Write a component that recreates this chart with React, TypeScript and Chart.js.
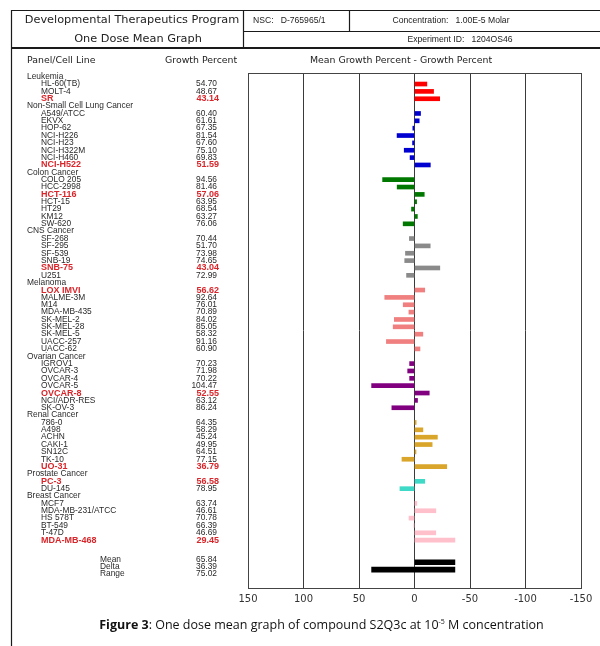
import { useEffect, useRef } from "react";
import { Chart, registerables } from "chart.js";

Chart.register(...registerables);

// ---------- data ----------
const panelNames = [
  "Leukemia",
  "Non-Small Cell Lung Cancer",
  "Colon Cancer",
  "CNS Cancer",
  "Melanoma",
  "Ovarian Cancer",
  "Renal Cancer",
  "Prostate Cancer",
  "Breast Cancer",
];

const leukemiaCells = ["HL-60(TB)", "MOLT-4", "SR"];
const leukemiaGP = [54.7, 48.67, 43.14];

const nsclcCells = ["A549/ATCC", "EKVX", "HOP-62", "NCI-H226", "NCI-H23", "NCI-H322M", "NCI-H460", "NCI-H522"];
const nsclcGP = [60.4, 61.61, 67.35, 81.54, 67.6, 75.1, 69.83, 51.59];

const colonCells = ["COLO 205", "HCC-2998", "HCT-116", "HCT-15", "HT29", "KM12", "SW-620"];
const colonGP = [94.56, 81.46, 57.06, 63.95, 68.54, 63.27, 76.06];

const cnsCells = ["SF-268", "SF-295", "SF-539", "SNB-19", "SNB-75", "U251"];
const cnsGP = [70.44, 51.7, 73.98, 74.65, 43.04, 72.99];

const melanomaCells = ["LOX IMVI", "MALME-3M", "M14", "MDA-MB-435", "SK-MEL-2", "SK-MEL-28", "SK-MEL-5", "UACC-257", "UACC-62"];
const melanomaGP = [56.62, 92.64, 76.01, 70.89, 84.02, 85.05, 58.32, 91.16, 60.9];

const ovarianCells = ["IGROV1", "OVCAR-3", "OVCAR-4", "OVCAR-5", "OVCAR-8", "NCI/ADR-RES", "SK-OV-3"];
const ovarianGP = [70.23, 71.98, 70.22, 104.47, 52.55, 63.12, 86.24];

const renalCells = ["786-0", "A498", "ACHN", "CAKI-1", "SN12C", "TK-10", "UO-31"];
const renalGP = [64.35, 58.29, 45.24, 49.95, 64.51, 77.15, 36.79];

const prostateCells = ["PC-3", "DU-145"];
const prostateGP = [56.58, 78.95];

const breastCells = ["MCF7", "MDA-MB-231/ATCC", "HS 578T", "BT-549", "T-47D", "MDA-MB-468"];
const breastGP = [63.74, 46.61, 70.78, 66.39, 46.69, 29.45];

const highlighted = ["SR", "NCI-H522", "HCT-116", "SNB-75", "LOX IMVI", "OVCAR-8", "UO-31", "PC-3", "MDA-MB-468"];

const panelColors = ["#ff0000", "#0000d0", "#007800", "#8a8a8a", "#f08080", "#800080", "#d9a52a", "#3fd9c8", "#ffbfcb"];

const MEAN = 65.84;
const DELTA = 36.39;
const RANGE = 75.02;

const xTickValues = [150, 100, 50, 0, -50, -100, -150];

// ---------- rows ----------
type Row = {
  kind: "panel" | "cell" | "blank" | "summary";
  label: string;
  gp?: number;
  color?: string;
  red?: boolean;
};

const panelCells = [leukemiaCells, nsclcCells, colonCells, cnsCells, melanomaCells, ovarianCells, renalCells, prostateCells, breastCells];
const panelGP = [leukemiaGP, nsclcGP, colonGP, cnsGP, melanomaGP, ovarianGP, renalGP, prostateGP, breastGP];

const rows: Row[] = [];
panelNames.forEach((name, p) => {
  rows.push({ kind: "panel", label: name });
  panelCells[p].forEach((c, k) => {
    rows.push({ kind: "cell", label: c, gp: panelGP[p][k], color: panelColors[p], red: highlighted.includes(c) });
  });
});
rows.push({ kind: "blank", label: "" });
rows.push({ kind: "summary", label: "Mean", gp: MEAN });
rows.push({ kind: "summary", label: "Delta", gp: DELTA });
rows.push({ kind: "summary", label: "Range", gp: RANGE });
rows.push({ kind: "blank", label: "" });
rows.push({ kind: "blank", label: "" });

const labels = rows.map((_, i) => String(i));

const cellBars = rows.map((r) => (r.kind === "cell" ? [0, (r.gp as number) - MEAN] : null));
const cellColors = rows.map((r) => r.color || "rgba(0,0,0,0)");
const summaryBars = rows.map((r) => {
  if (r.kind !== "summary") return null;
  if (r.label === "Delta") return [0, -DELTA];
  if (r.label === "Range") return [RANGE - DELTA, -DELTA];
  return null;
});

const fmt = (v: number) => v.toFixed(2);

// ---------- drawing plugin ----------
const tablePlugin = {
  id: "nciTable",
  afterDraw(chart: any) {
    const ctx: CanvasRenderingContext2D = chart.ctx;
    const ys = chart.scales.y;
    const area = chart.chartArea;
    ctx.save();

    const line = (x1: number, y1: number, x2: number, y2: number) => {
      ctx.beginPath();
      ctx.moveTo(x1, y1);
      ctx.lineTo(x2, y2);
      ctx.stroke();
    };

    // frame / header boxes
    ctx.strokeStyle = "#1a1a1a";
    ctx.lineWidth = 1.2;
    line(11, 10.5, 600, 10.5);
    line(11.5, 10, 11.5, 646);
    line(243.5, 10, 243.5, 48);
    line(349.5, 10, 349.5, 31);
    line(243, 31.5, 600, 31.5);
    ctx.lineWidth = 2;
    line(11, 48, 600, 48);

    // header texts
    ctx.fillStyle = "#222";
    ctx.textBaseline = "middle";
    ctx.textAlign = "center";
    ctx.font = "11.3px 'DejaVu Sans'";
    ctx.fillText("Developmental Therapeutics Program", 132, 20);
    ctx.fillText("One Dose Mean Graph", 138, 39);
    ctx.textAlign = "left";
    ctx.font = "8.6px 'Liberation Sans'";
    ctx.fillText("NSC:   D-765965/1", 253, 21);
    ctx.textAlign = "center";
    ctx.fillText("Concentration:   1.00E-5 Molar", 451, 21);
    ctx.fillText("Experiment ID:   1204OS46", 460, 40);

    ctx.font = "9.4px 'DejaVu Sans'";
    ctx.textAlign = "left";
    ctx.fillText("Panel/Cell Line", 27, 61);
    ctx.fillText("Growth Percent", 165, 61);
    ctx.textAlign = "center";
    ctx.fillText("Mean Growth Percent - Growth Percent", 401, 61);

    // table rows
    rows.forEach((r, i) => {
      if (r.kind === "blank") return;
      let py = ys.getPixelForValue(i);
      if (r.kind === "summary") py += 4.5;
      ctx.textBaseline = "middle";
      if (r.kind === "panel") {
        ctx.fillStyle = "#2a2a2a";
        ctx.font = "8.4px 'Liberation Sans'";
        ctx.textAlign = "left";
        ctx.fillText(r.label, 27, py);
        return;
      }
      const isRed = !!r.red;
      ctx.fillStyle = isRed ? "#d9262b" : "#2a2a2a";
      ctx.font = isRed ? "bold 9px 'Liberation Sans'" : "8.4px 'Liberation Sans'";
      ctx.textAlign = "left";
      ctx.fillText(r.label, r.kind === "summary" ? 100 : 41, py);
      ctx.textAlign = "right";
      ctx.fillText(fmt(r.gp as number), isRed ? 219 : 217, py);
    });

    // plot frame
    ctx.strokeStyle = "#444";
    ctx.lineWidth = 1;
    ctx.strokeRect(Math.round(area.left) + 0.5, Math.round(area.top) + 0.5, Math.round(area.right - area.left), Math.round(area.bottom - area.top));

    // caption
    const capY = 629;
    const fs = 12.5;
    ctx.fillStyle = "#111";
    ctx.textBaseline = "alphabetic";
    ctx.textAlign = "left";
    const boldPart = "Figure 3";
    const p1 = ": One dose mean graph of compound S2Q3c at 10";
    const sup = "-5";
    const p2 = " M concentration";
    ctx.font = `bold ${fs}px 'Open Sans'`;
    const wB = ctx.measureText(boldPart).width;
    ctx.font = `${fs}px 'Open Sans'`;
    const w1 = ctx.measureText(p1).width;
    const w2 = ctx.measureText(p2).width;
    ctx.font = "7px 'Open Sans'";
    const wS = ctx.measureText(sup).width;
    const total = wB + w1 + wS + w2;
    let x = 321.5 - total / 2;
    ctx.font = `bold ${fs}px 'Open Sans'`;
    ctx.fillText(boldPart, x, capY);
    x += wB;
    ctx.font = `${fs}px 'Open Sans'`;
    ctx.fillText(p1, x, capY);
    x += w1;
    ctx.font = "7px 'Open Sans'";
    ctx.fillText(sup, x, capY - 5);
    x += wS;
    ctx.font = `${fs}px 'Open Sans'`;
    ctx.fillText(p2, x, capY);

    ctx.restore();
  },
};

export default function App() {
  const canvasRef = useRef<HTMLCanvasElement | null>(null);

  useEffect(() => {
    document.body.style.margin = "0";
    const canvas = canvasRef.current;
    if (!canvas) return;
    const chart = new Chart(canvas, {
      type: "bar",
      data: {
        labels,
        datasets: [
          {
            data: cellBars as any,
            backgroundColor: cellColors,
            barThickness: 4,
            grouped: false,
          } as any,
          {
            data: summaryBars as any,
            backgroundColor: "#000",
            barThickness: 5,
            grouped: false,
          } as any,
        ],
      },
      options: {
        responsive: false,
        animation: false,
        indexAxis: "y",
        layout: { padding: { left: 248, right: 19, top: 73, bottom: 38 } },
        plugins: {
          legend: { display: false },
          tooltip: { enabled: false },
        },
        scales: {
          x: {
            type: "linear",
            min: -150,
            max: 150,
            reverse: true,
            afterBuildTicks: (scale: any) => {
              scale.ticks = xTickValues.map((v) => ({ value: v }));
            },
            afterFit: (scale: any) => {
              scale.height = 20;
            },
            ticks: {
              font: { family: "'DejaVu Sans'", size: 10 },
              color: "#333",
              padding: 5,
              callback: (v: any) => String(v),
            },
            grid: { color: "#3a3a3a", lineWidth: 1, drawTicks: false },
            border: { display: true, color: "#3a3a3a" },
          },
          y: {
            type: "category",
            display: false,
            offset: true,
            grid: { display: false },
          },
        },
      },
      plugins: [tablePlugin],
    });
    return () => chart.destroy();
  }, []);

  return (
    <div style={{ position: "absolute", left: 0, top: 0, width: 600, height: 646, background: "#fff" }}>
      <canvas ref={canvasRef} width={600} height={646} style={{ display: "block" }} />
    </div>
  );
}
